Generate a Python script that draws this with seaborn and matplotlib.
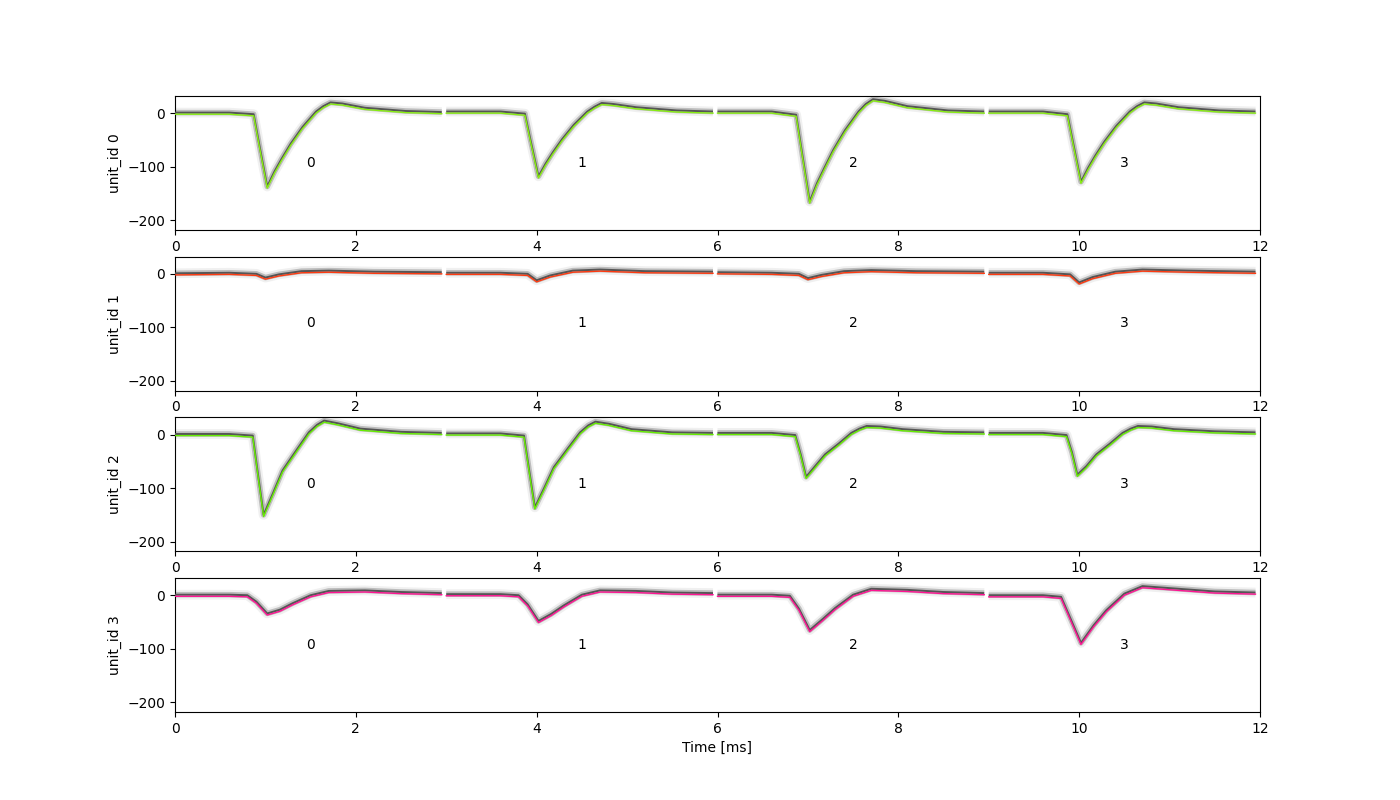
import matplotlib
matplotlib.use('Agg')
import matplotlib.pyplot as plt
import seaborn as sns
import numpy as np

# Template waveforms (µV), per unit and per channel.
# Each channel occupies a 3 ms window; times are relative to the window start.
unit_ids = [0, 1, 2, 3]
channel_ids = [0, 1, 2, 3]
channel_width_ms = 3.0

unit0_times = [0.0, 0.6, 0.87, 0.93, 1.02, 1.1, 1.18, 1.28, 1.41, 1.56, 1.64, 1.72, 1.85, 2.1, 2.55, 2.95]
unit0_templates = [
    [-2, -2, -5, -60, -140, -112, -88, -60, -29, 0, 10, 17, 15, 7, 1, -1],
    [0, 0, -4, -52, -121, -97, -76, -52, -25, 0, 9, 16, 14, 8, 2, 0],
    [0, 0, -6, -72, -168, -134, -106, -72, -35, 0, 14, 23, 20, 10, 2, 0],
    [0, 0, -5, -56, -131, -105, -82, -56, -27, 0, 10, 17, 15, 8, 2, 0],
]

unit1_times = [0.0, 0.6, 0.9, 1.0, 1.15, 1.4, 1.7, 2.2, 2.95]
unit1_templates = [
    [-2, -1, -3, -10, -4, 2, 3, 1, 0],
    [-1, -1, -3, -15, -6, 3, 5, 2, 1],
    [0, -1, -3, -11, -5, 2, 4, 2, 1],
    [-1, -1, -4, -19, -9, 1, 5, 3, 1],
]

unit2_times = [0.0, 0.6, 0.86, 0.92, 0.98, 1.08, 1.19, 1.34, 1.48, 1.57, 1.65, 1.8, 2.05, 2.5, 2.95]
unit2_templates = [
    [-2, -2, -5, -80, -153, -114, -70, -33, 1, 15, 23, 18, 8, 2, 0],
    [-1, -1, -5, -73, -139, -104, -64, -30, 1, 14, 21, 17, 7, 1, 0],
    [0, 0, -4, -40, -82, -62, -40, -20, 0, 8, 13, 12, 7, 2, 1],
    [0, 0, -4, -36, -78, -62, -40, -20, 0, 8, 13, 12, 7, 3, 1],
]

unit3_times = [0.0, 0.6, 0.8, 0.9, 1.02, 1.16, 1.3, 1.5, 1.7, 2.1, 2.5, 2.95]
unit3_templates = [
    [-2, -2, -3, -15, -37, -30, -18, -3, 5, 6, 3, 1],
    [-1, -1, -3, -20, -51, -38, -22, -2, 6, 5, 2, 1],
    [-2, -2, -4, -28, -68, -48, -27, -2, 9, 7, 3, 1],
    [-3, -3, -6, -45, -92, -59, -31, 0, 14, 9, 4, 2],
]

unit_colors = ['#88ee11', '#ff3a10', '#66ee00', '#ff1493']

all_times = [unit0_times, unit1_times, unit2_times, unit3_times]
all_templates = [unit0_templates, unit1_templates, unit2_templates, unit3_templates]

fig, axes = plt.subplots(len(unit_ids), 1, figsize=(14, 8), dpi=100)

for ax, u, times, templates, color in zip(axes, unit_ids, all_times, all_templates, unit_colors):
    for c, wf in zip(channel_ids, templates):
        t = np.array(times) + c * channel_width_ms
        wf = np.array(wf, dtype=float)
        band = wf + 3  # density mode sits slightly above the mean template
        # grey "density" band: light halo, mid grey, dark core
        ax.plot(t, band, color='#f0f0f0', lw=7, solid_capstyle='butt', zorder=1)
        ax.plot(t, band, color='#bdbdbd', lw=4, solid_capstyle='butt', zorder=2)
        ax.plot(t, band, color='#555555', lw=1.4, solid_capstyle='butt', zorder=3)
        sns.lineplot(x=t, y=wf, ax=ax, color=color, lw=1.0, zorder=4)
        ax.text(c * channel_width_ms + 1.5, -100, str(c), ha='center', va='baseline', fontsize=10)

    ax.set_xlim(0, 12)
    ax.set_ylim(-218, 32)
    ax.set_xticks([0, 2, 4, 6, 8, 10, 12])
    ax.set_yticks([0, -100, -200])
    ax.set_ylabel(f"unit_id {u}")

axes[-1].set_xlabel("Time [ms]")

plt.savefig('out.png', dpi=100)
plt.close()
